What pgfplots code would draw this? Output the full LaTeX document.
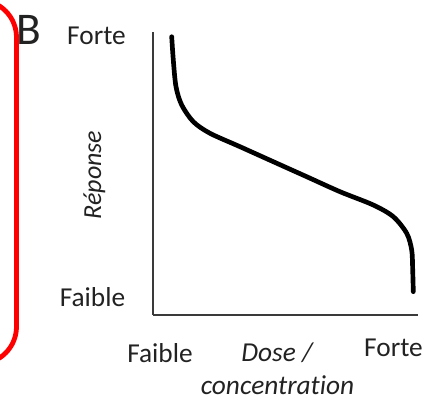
\documentclass[border=0pt]{standalone}
\usepackage{pgfplots}
\pgfplotsset{compat=1.18}
\usepackage{fontspec}
\setmainfont{Carlito}[Ligatures=NoCommon]
\definecolor{txt}{HTML}{222222}
\definecolor{axc}{HTML}{3A3A3A}
\begin{document}
\begin{tikzpicture}[x=0.75pt,y=0.75pt]
\useasboundingbox (0,0) rectangle (426,404);
\begin{scope}
\clip (0,0) rectangle (426,404);
\draw[red, line width=3.6pt, rounded corners=28pt] (-80,404) rectangle (16.5,40);
\end{scope}
\begin{axis}[
  at={(153pt*0.75,89pt*0.75)}, anchor=south west,
  scale only axis, width=198.75pt, height=212.25pt,
  xmin=153, xmax=418, ymin=0, ymax=283,
  axis lines=left,
  axis line style={-, line width=2.1pt, color=axc},
  xtick=\empty, ytick=\empty,
  clip=false,
]
\addplot[black, line width=3.5pt, line cap=round, smooth, tension=0.5] coordinates {
(171.7,278.3) (173.3,255) (176,228.3) (181.7,210) (193.3,193.3) (210,181.7)
(240,168.3) (273.3,153.3) (306.7,138.3) (340,123.3) (373.3,110)
(393.3,98.3) (406.7,81.7) (411.7,65) (412.7,45) (413.3,23.3)
};
\end{axis}
\begin{scope}[every node/.style={text=txt, inner sep=0pt, font=\fontsize{20.5}{24}\selectfont}]
\node[anchor=base, font=\fontsize{34}{40}\selectfont] at (29,359) {B};
\node[anchor=base] at (96.5,359) {Forte};
\node[anchor=base] at (92.5,97) {Faible};
\node[anchor=base] at (160,41) {Faible};
\node[anchor=base, font=\fontsize{20.5}{24}\selectfont\itshape] at (277,42) {Dose /};
\node[anchor=base, font=\fontsize{20.5}{24}\selectfont\itshape] at (277.5,9) {concentration};
\node[anchor=base] at (393.5,47) {Forte};
\node[anchor=base, rotate=90, font=\fontsize{19.5}{24}\selectfont\itshape] at (101,229) {Réponse};
\end{scope}
\end{tikzpicture}
\end{document}
